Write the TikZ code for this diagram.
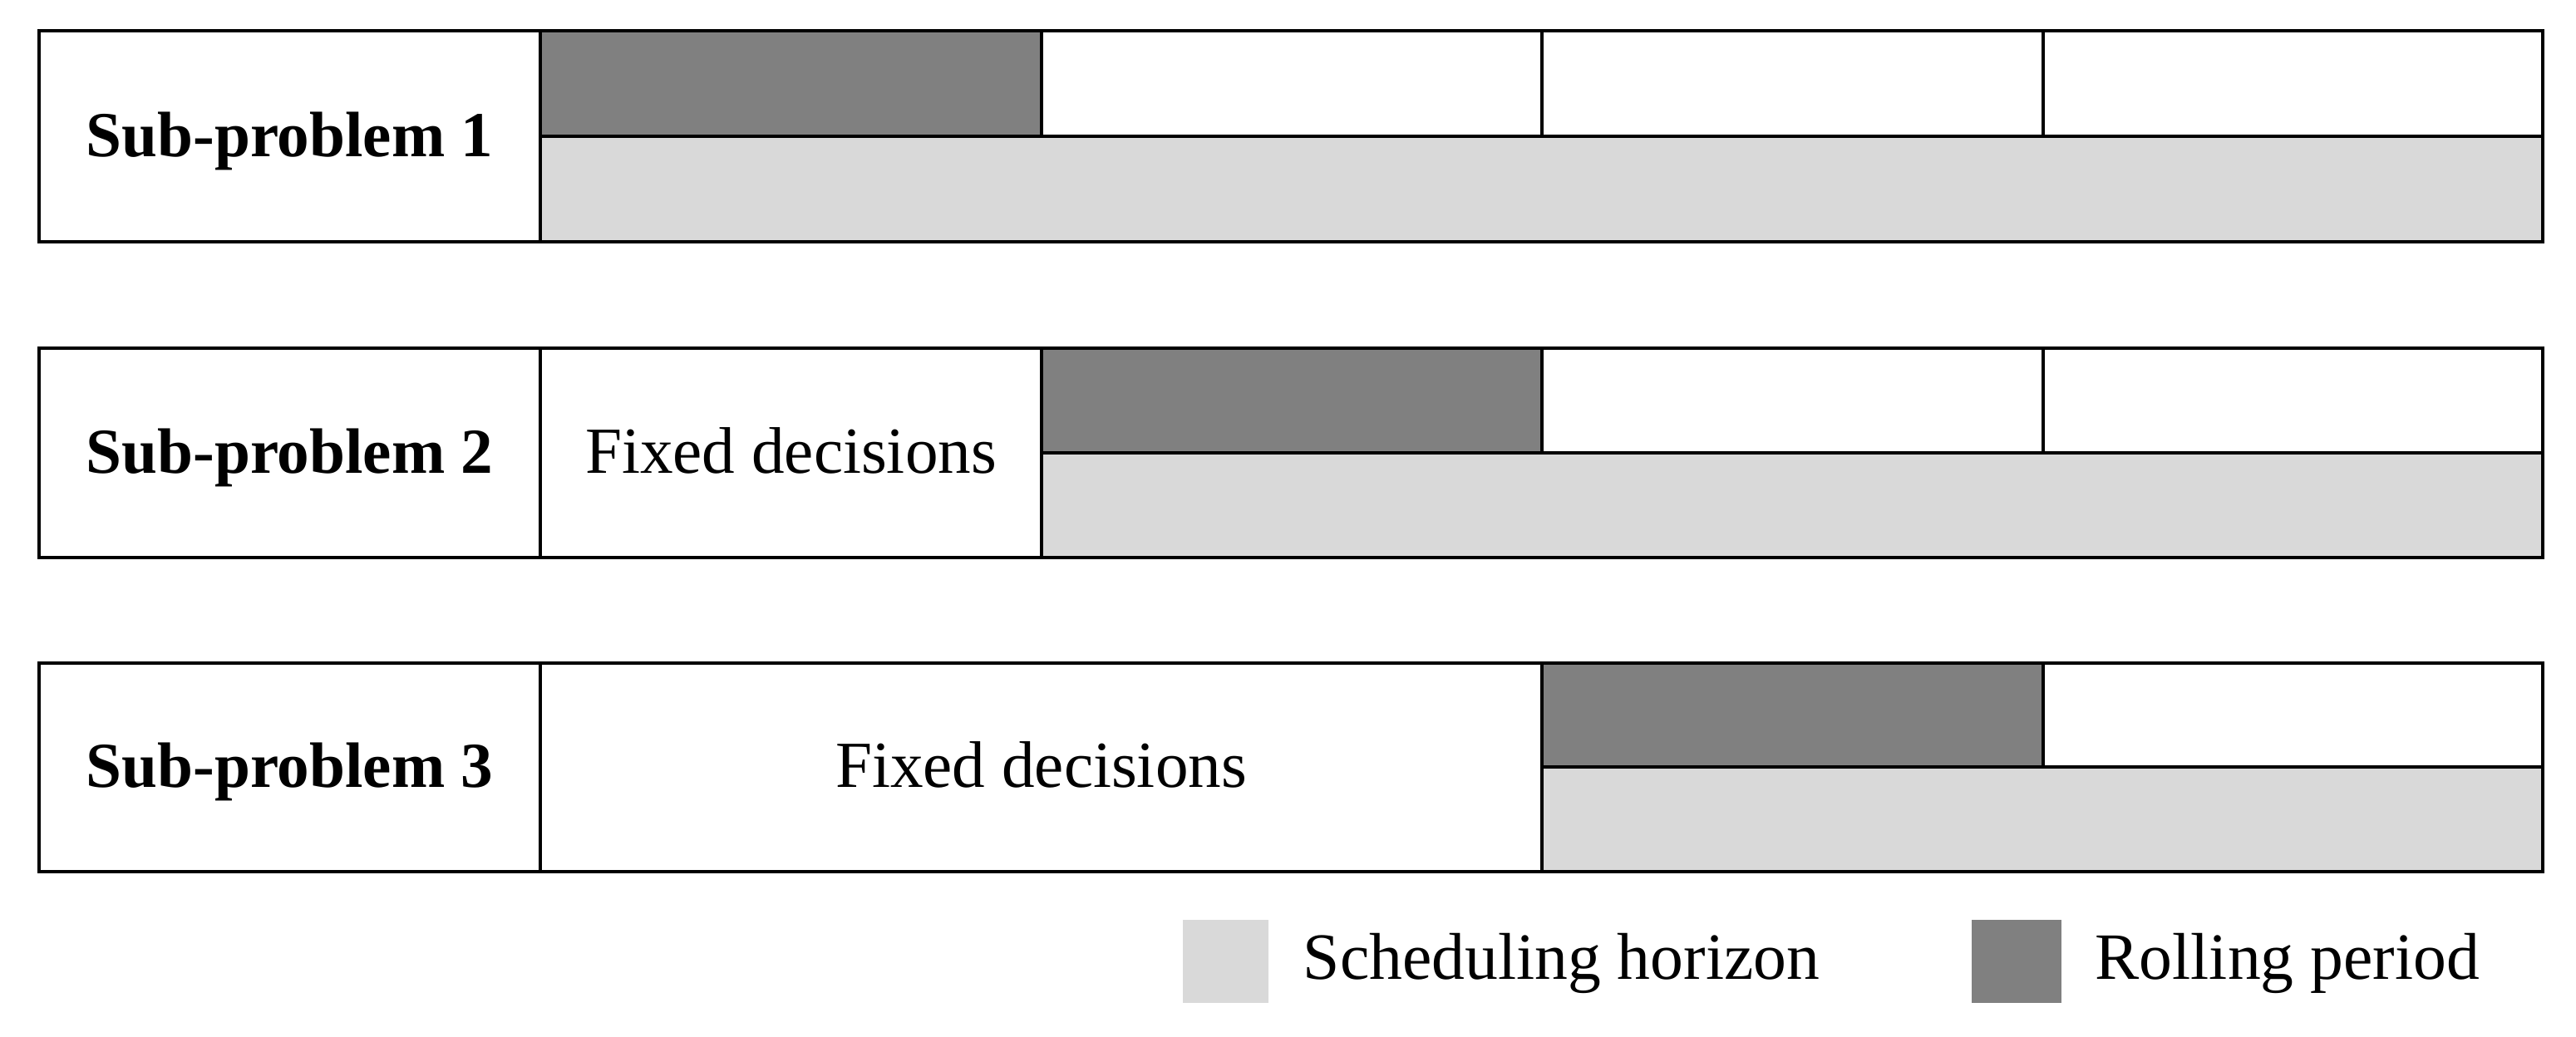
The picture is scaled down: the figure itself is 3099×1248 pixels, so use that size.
\documentclass[tikz,border=0pt]{standalone}
\usepackage{fontspec}
\setmainfont{Liberation Serif}
\definecolor{rollgray}{HTML}{808080}
\definecolor{horgray}{HTML}{D9D9D9}
\tikzset{
  cell/.style={draw=black, line width=0.85pt, fill=white},
  roll/.style={cell, fill=rollgray},
  hor/.style={cell, fill=horgray},
  lbl/.style={font=\fontsize{19.3}{21}\selectfont\bfseries, anchor=base, inner sep=0pt},
  txt/.style={font=\fontsize{19.8}{21}\selectfont, anchor=base, inner sep=0pt},
  legtxt/.style={font=\fontsize{19.9}{21}\selectfont, anchor=base west, inner sep=0pt},
}
\begin{document}
\begin{tikzpicture}[x=0.25pt, y=-0.25pt]
\useasboundingbox (0,0) rectangle (3099,1248);
% Row 1
\draw[cell] (47,37) rectangle (650,291);
\draw[roll] (650,37) rectangle (1253,164);
\draw[cell] (1253,37) rectangle (1855,164);
\draw[cell] (1855,37) rectangle (2458,164);
\draw[cell] (2458,37) rectangle (3059,164);
\draw[hor] (650,164) rectangle (3059,291);
\node[lbl] (l1) at (348.5,189) {Sub-problem 1};
% Row 2
\draw[cell] (47,419) rectangle (650,671);
\draw[cell] (650,419) rectangle (1253,671);
\draw[roll] (1253,419) rectangle (1855,545);
\draw[cell] (1855,419) rectangle (2458,545);
\draw[cell] (2458,419) rectangle (3059,545);
\draw[hor] (1253,545) rectangle (3059,671);
\node[lbl] (l2) at (348.5,570) {Sub-problem 2};
\node[txt] (f2) at (951.5,570) {Fixed decisions};
% Row 3
\draw[cell] (47,798) rectangle (650,1049);
\draw[cell] (650,798) rectangle (1855,1049);
\draw[roll] (1855,798) rectangle (2458,923);
\draw[cell] (2458,798) rectangle (3059,923);
\draw[hor] (1855,923) rectangle (3059,1049);
\node[lbl] (l3) at (348.5,948) {Sub-problem 3};
\node[txt] (f3) at (1252.5,948) {Fixed decisions};
% Legend
\fill[horgray] (1423,1107) rectangle (1526,1207);
\node[legtxt] (lh) at (1567,1179) {Scheduling horizon};
\fill[rollgray] (2372,1107) rectangle (2480,1207);
\node[legtxt] (lr) at (2520,1179) {Rolling period};
\end{tikzpicture}
\end{document}
